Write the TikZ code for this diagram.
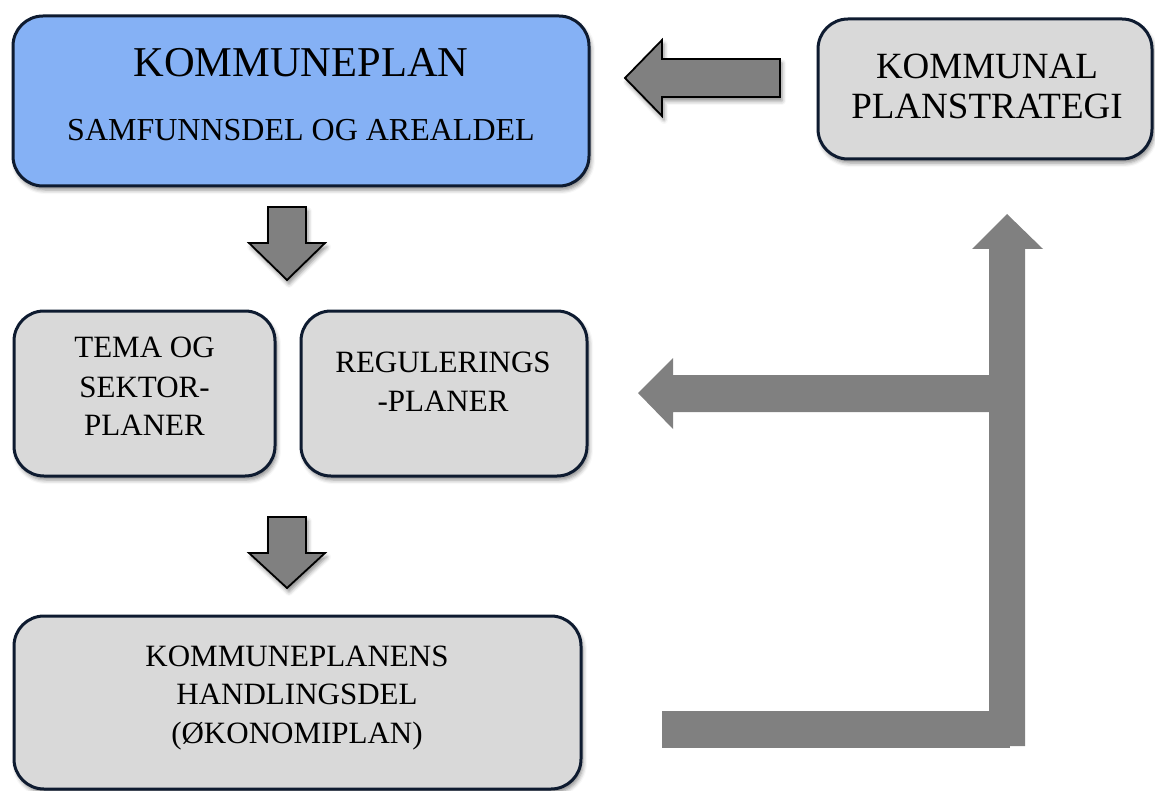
\documentclass[tikz,border=0pt]{standalone}
\usepackage{fontspec}
\setmainfont{Liberation Serif}
\usetikzlibrary{shadows.blur}
\definecolor{edgecol}{RGB}{14,27,48}
\definecolor{bluefill}{RGB}{133,177,245}
\definecolor{grayfill}{RGB}{217,217,217}
\definecolor{arrowgray}{RGB}{128,128,128}
\begin{document}
\begin{tikzpicture}[x=1pt,y=1pt,
  shade/.style={blur shadow={shadow xshift=2pt, shadow yshift=-4pt, shadow blur radius=4pt, shadow opacity=45}},
  box/.style={draw=edgecol, line width=3pt, rounded corners=30pt, inner sep=0pt, shade},
  bluebox/.style={box, fill=bluefill},
  graybox/.style={box, fill=grayfill},
  lbl/.style={anchor=base, inner sep=0pt, text=black},
  big/.style={lbl, font=\fontsize{42.5}{48}\selectfont},
  mid/.style={lbl, font=\fontsize{37}{44}\selectfont},
  sub/.style={lbl, font=\fontsize{32}{36}\selectfont},
  norm/.style={lbl, font=\fontsize{31}{38}\selectfont},
  blockarrow/.style={draw=black, line width=1.8pt, fill=arrowgray, line join=miter, shade},
  bigarrow/.style={fill=arrowgray, draw=none}]
\useasboundingbox (0,0) rectangle (1155,-791);

% boxes
\node[bluebox, minimum width=576pt, minimum height=170pt] (kp) at (301,-101) {};
\node[graybox, minimum width=334pt, minimum height=140pt] (ks) at (985,-89) {};
\node[graybox, minimum width=261pt, minimum height=165pt] (tema) at (144.5,-393.5) {};
\node[graybox, minimum width=286pt, minimum height=165pt] (reg) at (444,-393.5) {};
\node[graybox, minimum width=567pt, minimum height=173pt] (hand) at (297.5,-702.5) {};

% texts
\node[big] (t1) at (301,-77) {KOMMUNEPLAN};
\node[sub] (t2) at (301,-141) {SAMFUNNSDEL OG AREALDEL};
\node[mid] (t3) at (987,-79) {KOMMUNAL};
\node[mid] (t4) at (987,-119) {PLANSTRATEGI};
\node[norm] (t5) at (144.5,-357) {TEMA OG};
\node[norm] (t6) at (144.5,-397) {SEKTOR-};
\node[norm] (t7) at (144.5,-435) {PLANER};
\node[norm] (t8) at (443,-372) {REGULERINGS};
\node[norm] (t9) at (443,-411) {-PLANER};
\node[norm] (t10) at (297,-666) {KOMMUNEPLANENS};
\node[norm] (t11) at (297,-704) {HANDLINGSDEL};
\node[norm] (t12) at (297,-743) {(ØKONOMIPLAN)};

% outlined block arrows
\draw[blockarrow] (625,-78) -- (662,-40) -- (662,-59) -- (780,-59) -- (780,-97) -- (662,-97) -- (662,-116) -- cycle;
\draw[blockarrow] (268,-207) -- (306,-207) -- (306,-243) -- (325,-243) -- (287,-280) -- (249,-243) -- (268,-243) -- cycle;
\draw[blockarrow] (268,-517) -- (306,-517) -- (306,-553) -- (325,-553) -- (287,-588) -- (249,-553) -- (268,-553) -- cycle;

% large L-shaped arrow
\fill[bigarrow] (989,-746) -- (989,-249) -- (972,-249) -- (1007,-214) -- (1043,-249) -- (1025,-249) -- (1025,-746) -- cycle;
\fill[bigarrow] (989,-375) -- (673,-375) -- (673,-358) -- (638,-393) -- (673,-429) -- (673,-412) -- (989,-412) -- cycle;
\fill[bigarrow] (662,-711) rectangle (1010,-747.5);
\end{tikzpicture}
\end{document}
